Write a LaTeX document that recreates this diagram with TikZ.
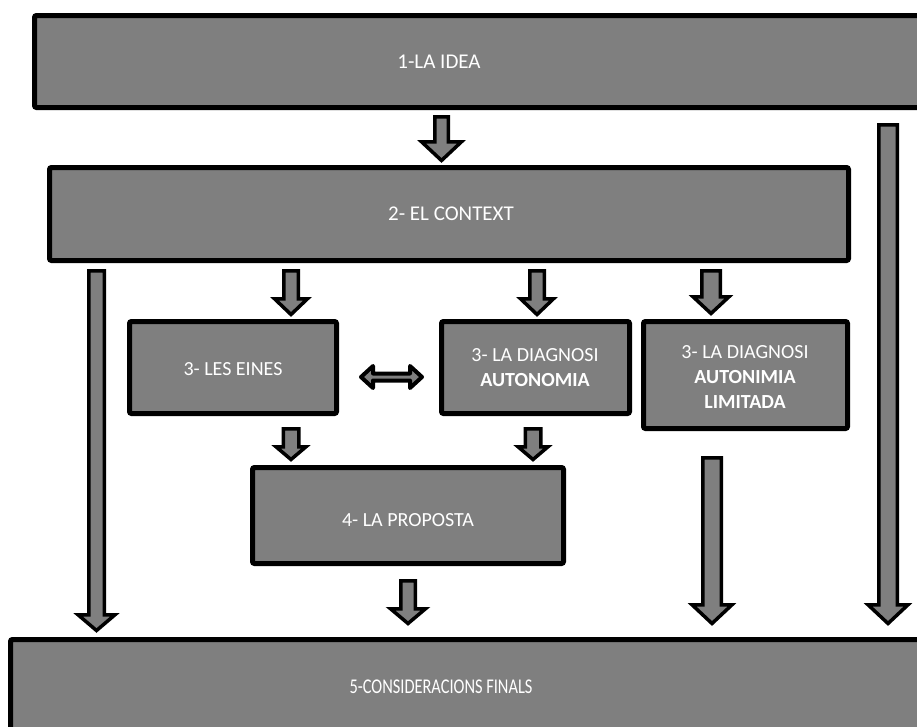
\documentclass[tikz,border=0pt]{standalone}
\usepackage{fontspec}
\setmainfont{Carlito}
\newfontfamily\narrowfont[FakeStretch=0.78]{Carlito}
\definecolor{boxgray}{HTML}{7F7F7F}
\tikzset{
  box/.style={fill=boxgray, draw=black, line width=5pt, rounded corners=2pt},
  lbl/.style={text=white, align=center, inner sep=0pt, font=\fontsize{20}{25}\selectfont},
  toplbl/.style={text=white, align=center, inner sep=0pt, font=\fontsize{21}{25}\selectfont},
  narrowlbl/.style={text=white, align=center, inner sep=0pt, font=\narrowfont\fontsize{21}{25}\selectfont},
  barrow/.style={fill=boxgray, draw=black, line width=3.5pt, line join=miter, miter limit=10},
}
% cx, top, headstart, tip, shaft width, head width
\newcommand\dnarrow[6]{%
  \draw[barrow] ({#1-#5/2},#2) -- ({#1+#5/2},#2) -- ({#1+#5/2},#3) -- ({#1+#6/2},#3)
    -- (#1,#4) -- ({#1-#6/2},#3) -- ({#1-#5/2},#3) -- cycle;}
\begin{document}
\begin{tikzpicture}[x=1pt,y=-1pt]
\useasboundingbox (0,0) rectangle (917,726);
\clip (0,0) rectangle (917,726);
% boxes
\draw[box] (34.5,15.5) rectangle (935,107.5);
\draw[box] (49.5,167.5) rectangle (848.5,260.5);
\draw[box] (129.5,321.5) rectangle (336.5,413.5);
\draw[box] (441.5,321.5) rectangle (629.5,413.5);
\draw[box] (643.5,321.5) rectangle (847.5,428.5);
\draw[box] (252.5,467.5) rectangle (563.5,563.5);
\draw[box] (10.5,639.5) rectangle (935,745);
% labels
\node[toplbl] (idea) at (439,62) {1-LA IDEA};
\node[toplbl] (context) at (451,214) {2- EL CONTEXT};
\node[lbl] (eines) at (233,369) {3- LES EINES};
\node[lbl] (diagA) at (535,368) {3- LA DIAGNOSI\\\bfseries AUTONOMIA};
\node[lbl] (diagB) at (745,377) {3- LA DIAGNOSI\\\bfseries AUTONIMIA\\\bfseries LIMITADA};
\node[lbl] (proposta) at (408,520) {4- LA PROPOSTA};
\node[narrowlbl] (finals) at (441,687) {5-CONSIDERACIONS FINALS};
% block arrows
\dnarrow{441.5}{116.75}{141.75}{160.5}{13.5}{40}
\dnarrow{291}{270.75}{298.75}{314.5}{14.5}{33}
\dnarrow{537}{270.75}{298.75}{314.5}{14.5}{33}
\dnarrow{711}{270.75}{296.75}{313.5}{18.5}{36}
\dnarrow{291}{428.75}{446.75}{459.5}{15.5}{30}
\dnarrow{533}{428.75}{446.75}{459.5}{15.5}{30}
\dnarrow{96.5}{270.75}{614.75}{630.5}{15.5}{37}
\dnarrow{408}{580.75}{608.75}{623.5}{14.5}{35}
\dnarrow{712}{457.75}{604.75}{623.5}{18.5}{40}
\dnarrow{888}{124.75}{604.75}{623.5}{18.5}{40}
% double arrow between LES EINES and DIAGNOSI
\draw[barrow, line width=4pt, line join=round] (361,377) -- (373,366) -- (373,373.5) -- (410,373.5) -- (410,366)
  -- (422,377) -- (410,388) -- (410,380.5) -- (373,380.5) -- (373,388) -- cycle;
\end{tikzpicture}
\end{document}
